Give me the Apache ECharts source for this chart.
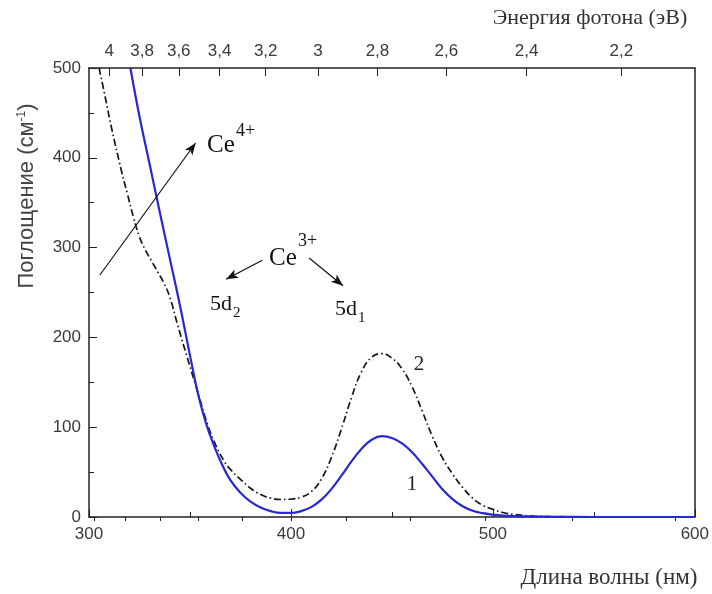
<!DOCTYPE html>
<html>
<head>
<meta charset="utf-8">
<script src="https://cdn.jsdelivr.net/npm/echarts@6/dist/echarts.min.js"></script>
<style>
  html, body { margin: 0; padding: 0; background: #fff; }
  #chart { width: 712px; height: 594px; }
</style>
</head>
<body>
<div id="chart"></div>
<script>
// Absorption spectra of Ce-doped samples (curve 1 solid blue, curve 2 dash-dot)
const wavelength1 = [320.5, 325, 330, 335, 340, 345, 350, 354, 358, 362, 366, 370, 375, 380, 385, 390, 395, 400, 405, 410, 415, 420, 425, 430, 435, 440, 445, 450, 455, 460, 465, 470, 475, 480, 485, 490, 495, 500, 505, 510, 520, 530, 550, 600];
const absorption1 = [500, 446, 393, 340, 288, 236, 180, 137, 104, 79, 58, 41, 27, 17, 10.5, 6.5, 4.5, 4.5, 6.5, 11, 19, 31, 46, 62, 76, 86, 90, 88, 82, 72, 59, 45, 31, 20, 12, 7, 4.3, 2.7, 1.6, 1, 0.5, 0.2, 0, 0];

const wavelength2 = [305, 308, 311, 316, 319, 322, 325, 328, 331, 334, 337, 340, 344, 349, 354, 359, 363, 367, 370, 375, 380, 385, 390, 395, 400, 405, 410, 415, 420, 425, 430, 435, 440, 445, 450, 455, 460, 465, 470, 475, 480, 485, 490, 495, 500, 505, 510, 515, 520, 530, 550, 600];
const absorption2 = [500, 468, 435, 386, 360, 334, 312, 297, 285, 273, 261, 245, 213, 175, 138, 101, 79, 62, 53, 42, 32, 25, 21, 19.5, 20, 22, 28, 42, 66, 98, 133, 162, 178, 182, 177, 165, 145, 118, 90, 66, 48, 33, 21, 13, 8.5, 5, 3, 1.8, 1, 0.4, 0, 0];

// Photon energy ticks for the top axis (eV)
const energyMajor = [4, 3.8, 3.6, 3.4, 3.2, 3, 2.8, 2.6, 2.4, 2.2];
const energyMinor = [4.1, 3.9, 3.7, 3.5, 3.3, 3.1, 2.9, 2.7, 2.5, 2.3, 2.1];

// Annotation arrows, [from, to] in (nm, cm^-1)
const arrowCe4 = [[305.4, 269.5], [352.8, 416.5]];
const arrowCe3left = [[385.8, 286], [367.9, 264.7]];
const arrowCe3right = [[409, 288.4], [425.8, 257.6]];

const HC = 1240; // eV·nm
const toNm = e => HC / e;
const fmtEnergy = v => String(Math.round(HC / v * 10) / 10).replace('.', ',');
const zip = (xs, ys) => xs.map((x, i) => [x, ys[i]]);

const SANS = '"Liberation Sans", Arial, sans-serif';
const SERIF = '"Liberation Serif", "Times New Roman", serif';
const INK = '#222';
const LABEL = '#3a3a3a';

const chart = echarts.init(document.getElementById('chart'));

const frameLine = { show: true, onZero: false, lineStyle: { color: INK, width: 1.5 } };

chart.setOption({
  animation: false,
  backgroundColor: '#fff',
  grid: { left: 89, right: 15, top: 68, bottom: 77 },
  xAxis: [
    {
      type: 'value', position: 'bottom', min: 300, max: 600, interval: 100,
      axisLine: frameLine,
      axisTick: { inside: true, length: 8, lineStyle: { color: INK } },
      minorTick: { show: true, splitNumber: 2, length: 5, lineStyle: { color: INK } },
      splitLine: { show: false },
      axisLabel: { color: LABEL, fontSize: 17, fontFamily: SANS, margin: 9 }
    },
    {
      type: 'value', position: 'top', min: 300, max: 600,
      axisLine: frameLine,
      axisTick: { inside: true, length: 8, customValues: energyMajor.map(toNm), lineStyle: { color: INK } },
      splitLine: { show: false },
      axisLabel: {
        customValues: energyMajor.map(toNm), formatter: fmtEnergy,
        color: LABEL, fontSize: 17, fontFamily: SANS, margin: 8
      }
    },
    {
      type: 'value', position: 'top', min: 300, max: 600,
      axisLine: { show: false },
      axisTick: { inside: true, length: 4, customValues: energyMinor.map(toNm), lineStyle: { color: INK } },
      axisLabel: { show: false },
      splitLine: { show: false }
    }
  ],
  yAxis: [
    {
      type: 'value', position: 'left', min: 0, max: 500, interval: 100,
      axisLine: frameLine,
      axisTick: { inside: true, length: 8, lineStyle: { color: INK } },
      minorTick: { show: true, splitNumber: 2, length: 5, lineStyle: { color: INK } },
      splitLine: { show: false },
      axisLabel: { color: LABEL, fontSize: 17, fontFamily: SANS, margin: 8 }
    },
    {
      type: 'value', position: 'right', min: 0, max: 500, interval: 100,
      axisLine: frameLine,
      axisTick: { show: false },
      axisLabel: { show: false },
      splitLine: { show: false }
    }
  ],
  series: [
    {
      name: '2', type: 'line', xAxisIndex: 0, yAxisIndex: 0,
      data: zip(wavelength2, absorption2),
      showSymbol: false, smooth: 0.45, clip: true,
      lineStyle: { color: '#151515', width: 1.7, type: [7, 3, 1.5, 3] },
      z: 2,
      markLine: {
        silent: true, symbol: ['none', 'arrow'], symbolSize: [7, 12],
        label: { show: false },
        lineStyle: { color: '#111', width: 1.2, type: 'solid' },
        data: [arrowCe4, arrowCe3left, arrowCe3right].map(a => [{ coord: a[0] }, { coord: a[1] }])
      }
    },
    {
      name: '1', type: 'line', xAxisIndex: 0, yAxisIndex: 0,
      data: zip(wavelength1, absorption1),
      showSymbol: false, smooth: 0.45, clip: true,
      lineStyle: { color: '#2727d6', width: 2.2 },
      z: 3
    }
  ],
  graphic: [
    // axis titles
    { type: 'text', x: 590, y: 18, style: { text: 'Энергия фотона (эВ)', font: '22px ' + SERIF, fill: '#333', align: 'center', verticalAlign: 'middle' } },
    { type: 'text', x: 609, y: 578, style: { text: 'Длина волны (нм)', font: '23px ' + SERIF, fill: '#333', align: 'center', verticalAlign: 'middle' } },
    {
      type: 'text', x: 27, y: 196, rotation: Math.PI / 2,
      style: {
        text: 'Поглощение (см{s|-1})', font: '22px ' + SANS, fill: '#444',
        align: 'center', verticalAlign: 'middle',
        rich: { s: { fontSize: 12, fontFamily: SANS, fill: '#444', verticalAlign: 'top', lineHeight: 12 } }
      }
    },
    // ion labels
    { type: 'text', x: 207, y: 145, style: { text: 'Ce', font: '25px ' + SERIF, fill: '#111', verticalAlign: 'middle' } },
    { type: 'text', x: 236, y: 131, style: { text: '4+', font: '18px ' + SERIF, fill: '#111', verticalAlign: 'middle' } },
    { type: 'text', x: 269, y: 258, style: { text: 'Ce', font: '25px ' + SERIF, fill: '#111', verticalAlign: 'middle' } },
    { type: 'text', x: 298, y: 241, style: { text: '3+', font: '18px ' + SERIF, fill: '#111', verticalAlign: 'middle' } },
    { type: 'text', x: 210, y: 304, style: { text: '5d', font: '22px ' + SERIF, fill: '#111', verticalAlign: 'middle' } },
    { type: 'text', x: 233, y: 313, style: { text: '2', font: '15px ' + SERIF, fill: '#111', verticalAlign: 'middle' } },
    { type: 'text', x: 335, y: 309, style: { text: '5d', font: '22px ' + SERIF, fill: '#111', verticalAlign: 'middle' } },
    { type: 'text', x: 358, y: 318, style: { text: '1', font: '15px ' + SERIF, fill: '#111', verticalAlign: 'middle' } },
    // curve numbers
    { type: 'text', x: 419, y: 364, style: { text: '2', font: '21px ' + SERIF, fill: '#222', align: 'center', verticalAlign: 'middle' } },
    { type: 'text', x: 412, y: 484, style: { text: '1', font: '21px ' + SERIF, fill: '#222', align: 'center', verticalAlign: 'middle' } }
  ]
});
</script>
</body>
</html>
